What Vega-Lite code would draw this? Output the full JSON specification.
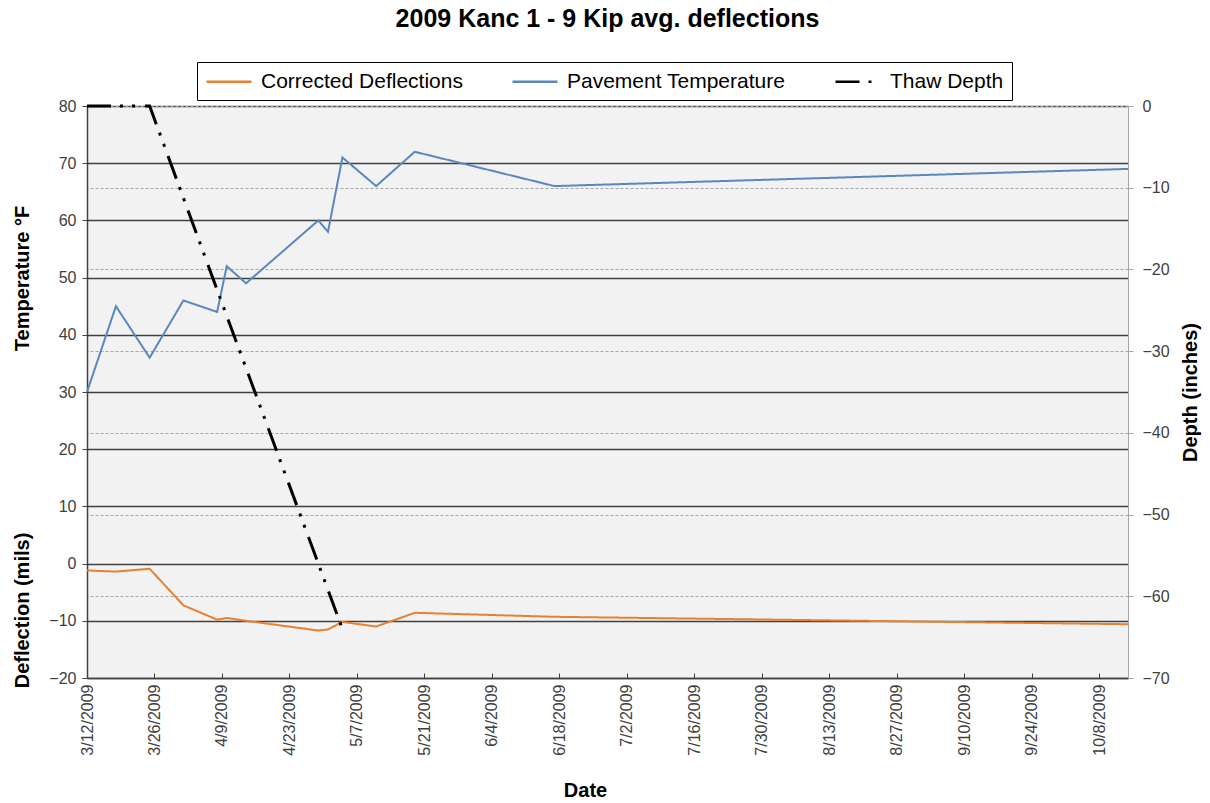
{
  "$schema": "https://vega.github.io/schema/vega-lite/v6.json",
  "width": 1041,
  "height": 572,
  "autosize": {"type": "none"},
  "padding": {"left": 87, "top": 106, "right": 82, "bottom": 125},
  "background": "white",
  "title": {
    "text": "2009 Kanc 1 - 9 Kip avg. deflections",
    "font": "Liberation Sans",
    "fontSize": 25,
    "fontWeight": "bold",
    "color": "#000000",
    "anchor": "middle",
    "frame": "group",
    "offset": 30
  },
  "config": {
    "font": "Liberation Sans",
    "view": {"fill": "#f2f2f2", "stroke": "#b0b0b0", "strokeWidth": 1},
    "legend": {
      "orient": "none",
      "legendX": 110,
      "legendY": -44,
      "direction": "horizontal",
      "strokeColor": "#000000",
      "fillColor": "#ffffff",
      "padding": 8,
      "labelFont": "Liberation Sans",
      "labelFontSize": 21,
      "labelColor": "#000000",
      "labelOffset": 33,
      "symbolType": "M-1,0H3.5",
      "symbolSize": 400,
      "symbolStrokeWidth": 2.5,
      "columnPadding": 44,
      "labelLimit": 400
    }
  },
  "data": {
    "values": [
      {"date": "2009/03/12", "series": "Pavement Temperature", "value": 30},
      {"date": "2009/03/18", "series": "Pavement Temperature", "value": 45},
      {"date": "2009/03/25", "series": "Pavement Temperature", "value": 36},
      {"date": "2009/04/01", "series": "Pavement Temperature", "value": 46},
      {"date": "2009/04/08", "series": "Pavement Temperature", "value": 44},
      {"date": "2009/04/10", "series": "Pavement Temperature", "value": 52},
      {"date": "2009/04/14", "series": "Pavement Temperature", "value": 49},
      {"date": "2009/04/29", "series": "Pavement Temperature", "value": 60},
      {"date": "2009/05/01", "series": "Pavement Temperature", "value": 58},
      {"date": "2009/05/04", "series": "Pavement Temperature", "value": 71},
      {"date": "2009/05/11", "series": "Pavement Temperature", "value": 66},
      {"date": "2009/05/19", "series": "Pavement Temperature", "value": 72},
      {"date": "2009/06/17", "series": "Pavement Temperature", "value": 66},
      {"date": "2009/10/14", "series": "Pavement Temperature", "value": 69},
      {"date": "2009/03/12", "series": "Corrected Deflections", "value": -1.2},
      {"date": "2009/03/18", "series": "Corrected Deflections", "value": -1.4},
      {"date": "2009/03/25", "series": "Corrected Deflections", "value": -0.9},
      {"date": "2009/04/01", "series": "Corrected Deflections", "value": -7.3},
      {"date": "2009/04/08", "series": "Corrected Deflections", "value": -9.8},
      {"date": "2009/04/10", "series": "Corrected Deflections", "value": -9.5},
      {"date": "2009/04/14", "series": "Corrected Deflections", "value": -10.0},
      {"date": "2009/04/29", "series": "Corrected Deflections", "value": -11.7},
      {"date": "2009/05/01", "series": "Corrected Deflections", "value": -11.5},
      {"date": "2009/05/04", "series": "Corrected Deflections", "value": -10.2},
      {"date": "2009/05/11", "series": "Corrected Deflections", "value": -11.0},
      {"date": "2009/05/19", "series": "Corrected Deflections", "value": -8.6},
      {"date": "2009/06/17", "series": "Corrected Deflections", "value": -9.3},
      {"date": "2009/10/14", "series": "Corrected Deflections", "value": -10.6},
      {"date": "2009/03/12", "series": "Thaw Depth", "value": 0},
      {"date": "2009/03/18", "series": "Thaw Depth", "value": 0},
      {"date": "2009/03/25", "series": "Thaw Depth", "value": 0},
      {"date": "2009/04/08", "series": "Thaw Depth", "value": -22.5},
      {"date": "2009/05/04", "series": "Thaw Depth", "value": -64}
    ]
  },
  "encoding": {
    "x": {
      "field": "date",
      "type": "temporal",
      "scale": {
        "domain": [{"year": 2009, "month": 3, "date": 12}, {"year": 2009, "month": 10, "date": 14}],
        "nice": false
      },
      "axis": {
        "title": "Date",
        "titleFont": "Liberation Sans",
        "titleFontSize": 20,
        "titleFontWeight": "bold",
        "titleColor": "#000000",
        "titleX": 498,
        "titleY": 112,
        "titleAlign": "center",
        "titleBaseline": "middle",
        "values": [
          {"year": 2009, "month": 3, "date": 12},
          {"year": 2009, "month": 3, "date": 26},
          {"year": 2009, "month": 4, "date": 9},
          {"year": 2009, "month": 4, "date": 23},
          {"year": 2009, "month": 5, "date": 7},
          {"year": 2009, "month": 5, "date": 21},
          {"year": 2009, "month": 6, "date": 4},
          {"year": 2009, "month": 6, "date": 18},
          {"year": 2009, "month": 7, "date": 2},
          {"year": 2009, "month": 7, "date": 16},
          {"year": 2009, "month": 7, "date": 30},
          {"year": 2009, "month": 8, "date": 13},
          {"year": 2009, "month": 8, "date": 27},
          {"year": 2009, "month": 9, "date": 10},
          {"year": 2009, "month": 9, "date": 24},
          {"year": 2009, "month": 10, "date": 8}
        ],
        "format": "%-m/%-d/%Y",
        "labelAngle": 270,
        "labelAlign": "right",
        "labelBaseline": "middle",
        "labelFontSize": 16,
        "labelColor": "#404040",
        "labelPadding": 11,
        "labelOverlap": false,
        "tickSize": -5,
        "tickColor": "#404040",
        "domainColor": "#404040",
        "domainWidth": 1.5,
        "grid": false
      }
    },
    "color": {
      "field": "series",
      "type": "nominal",
      "title": null,
      "scale": {
        "domain": ["Corrected Deflections", "Pavement Temperature", "Thaw Depth"],
        "range": ["#E8812F", "#5A87C0", "#000000"]
      }
    },
    "strokeDash": {
      "field": "series",
      "type": "nominal",
      "title": null,
      "scale": {
        "domain": ["Corrected Deflections", "Pavement Temperature", "Thaw Depth"],
        "range": [[1, 0], [1, 0], [24, 9, 3, 9, 3, 10]]
      }
    }
  },
  "layer": [
    {
      "transform": [{"filter": "datum.series === 'Pavement Temperature'"}],
      "mark": {"type": "line", "strokeWidth": 2},
      "encoding": {
        "y": {
          "field": "value",
          "type": "quantitative",
          "scale": {"domain": [-20, 80], "nice": false, "zero": false},
          "axis": {
            "orient": "left",
            "title": "Temperature °F",
            "titleFont": "Liberation Sans",
            "titleFontSize": 20,
            "titleFontWeight": "bold",
            "titleColor": "#000000",
            "titleAngle": 270,
            "titleX": -65,
            "titleY": 172,
            "titleAlign": "center",
            "titleBaseline": "middle",
            "values": [-20, -10, 0, 10, 20, 30, 40, 50, 60, 70, 80],
            "labelFontSize": 16,
            "labelColor": "#404040",
            "labelPadding": 6,
            "tickSize": 5,
            "tickColor": "#404040",
            "domainColor": "#404040",
            "domainWidth": 1.5,
            "grid": true,
            "gridColor": "#404040",
            "gridWidth": 1.3
          }
        }
      }
    },
    {
      "transform": [{"filter": "datum.series === 'Corrected Deflections'"}],
      "mark": {"type": "line", "strokeWidth": 2},
      "encoding": {
        "y": {
          "field": "value",
          "type": "quantitative",
          "scale": {"domain": [-20, 80], "nice": false, "zero": false},
          "axis": {
            "orient": "left",
            "title": "Deflection (mils)",
            "titleFont": "Liberation Sans",
            "titleFontSize": 20,
            "titleFontWeight": "bold",
            "titleColor": "#000000",
            "titleAngle": 270,
            "titleX": -65,
            "titleY": 504,
            "titleAlign": "center",
            "titleBaseline": "middle",
            "labels": false,
            "ticks": false,
            "domain": false,
            "grid": false
          }
        }
      }
    },
    {
      "transform": [{"filter": "datum.series === 'Thaw Depth'"}],
      "mark": {"type": "line", "strokeWidth": 3, "strokeCap": "butt"},
      "encoding": {
        "y": {
          "field": "value",
          "type": "quantitative",
          "scale": {"domain": [-70, 0], "nice": false, "zero": false},
          "axis": {
            "orient": "right",
            "title": "Depth (inches)",
            "titleFont": "Liberation Sans",
            "titleFontSize": 20,
            "titleFontWeight": "bold",
            "titleColor": "#000000",
            "titleAngle": 270,
            "titleX": 62,
            "titleY": 286,
            "titleAlign": "center",
            "titleBaseline": "middle",
            "values": [-70, -60, -50, -40, -30, -20, -10, 0],
            "labelFontSize": 16,
            "labelColor": "#404040",
            "labelPadding": 9,
            "tickSize": 5,
            "tickColor": "#a6a6a6",
            "domainColor": "#a6a6a6",
            "domainWidth": 1,
            "grid": true,
            "gridColor": "#a6a6a6",
            "gridDash": [3, 2],
            "gridWidth": 1
          }
        }
      }
    }
  ],
  "resolve": {"scale": {"y": "independent"}}
}
